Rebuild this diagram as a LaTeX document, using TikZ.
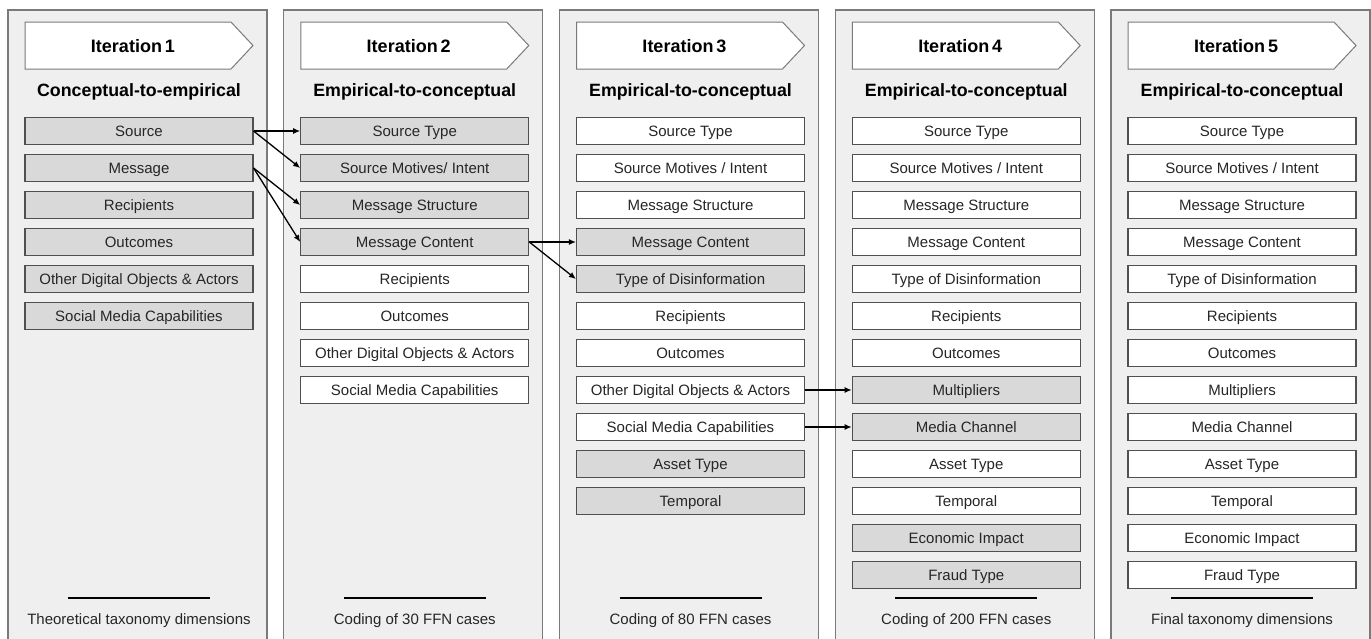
\documentclass[tikz,border=0pt]{standalone}
\usepackage{fontspec}
\setmainfont{Liberation Sans}
\usetikzlibrary{arrows.meta}
\definecolor{panelfill}{HTML}{EFEFEF}
\definecolor{panelline}{HTML}{7A7A7A}
\definecolor{boxline}{HTML}{505050}
\definecolor{grayfill}{HTML}{D9D9D9}
\definecolor{txt}{HTML}{262626}
\tikzset{
 panelfillst/.style={fill=panelfill},
 panelborder/.style={draw=panelline, line width=1.4pt},
 dimbox/.style={draw=boxline, line width=1.1pt, minimum width=228pt, minimum height=27pt, inner sep=0pt, text height=10.7pt, text depth=0pt, font=\fontsize{15}{18}\selectfont, text=txt},
 headshape/.style={draw=panelline, fill=white, line width=1pt},
 headtext/.style={font=\bfseries\fontsize{18}{21}\selectfont, text=black, inner sep=0pt, text height=12.9pt, text depth=0pt},
 subtext/.style={font=\bfseries\fontsize{17.8}{21}\selectfont, text=black, inner sep=0pt, text height=12.8pt, text depth=0pt},
 footline/.style={draw=black, line width=1.8pt},
 foottext/.style={font=\fontsize{15}{18}\selectfont, text=txt, inner sep=0pt, text height=10.7pt, text depth=0pt},
 link/.style={draw=black, line width=1.3pt, -{Latex[length=7pt,width=6pt]}},
}
\begin{document}
\begin{tikzpicture}[x=1pt,y=-1pt]
\useasboundingbox (0,0) rectangle (1371,638);
% panels
\foreach \i in {0,...,4}{
  \pgfmathsetmacro\px{8+275.75*\i}
  \fill[panelfillst] (\px,10) rectangle ({\px+259},660);
  \draw[panelborder] (\px,660) -- (\px,10) -- ({\px+259},10) -- ({\px+259},660);
  \draw[headshape] ({\px+17},22) -- ({\px+223},22) -- ({\px+245},45.5) -- ({\px+223},69) -- ({\px+17},69) -- cycle;
  \pgfmathtruncatemacro\n{\i+1}
  \node[headtext] (h\n) at ({\px+125},46) {Iteration\,\n};
  \draw[footline] ({\px+60},598) -- ({\px+202},598);
}
% subtitles
\node[subtext] (s1) at (139,90) {Conceptual-to-empirical};
\node[subtext] (s2) at (414.75,90) {Empirical-to-conceptual};
\node[subtext] (s3) at (690.5,90) {Empirical-to-conceptual};
\node[subtext] (s4) at (966.25,90) {Empirical-to-conceptual};
\node[subtext] (s5) at (1242,90) {Empirical-to-conceptual};
% column 1
\foreach \t/\f [count=\j] in {Source/grayfill, Message/grayfill, Recipients/grayfill, Outcomes/grayfill, {Other Digital Objects \& Actors}/grayfill, {Social Media Capabilities}/grayfill}
  \node[dimbox, fill=\f] (a\j) at (139,{131+37*(\j-1)}) {\t};
% column 2
\foreach \t/\f [count=\j] in {{Source Type}/grayfill, {Source Motives/ Intent}/grayfill, {Message Structure}/grayfill, {Message Content}/grayfill, Recipients/white, Outcomes/white, {Other Digital Objects \& Actors}/white, {Social Media Capabilities}/white}
  \node[dimbox, fill=\f] (b\j) at (414.75,{131+37*(\j-1)}) {\t};
% column 3
\foreach \t/\f [count=\j] in {{Source Type}/white, {Source Motives / Intent}/white, {Message Structure}/white, {Message Content}/grayfill, {Type of Disinformation}/grayfill, Recipients/white, Outcomes/white, {Other Digital Objects \& Actors}/white, {Social Media Capabilities}/white, {Asset Type}/grayfill, Temporal/grayfill}
  \node[dimbox, fill=\f] (c\j) at (690.5,{131+37*(\j-1)}) {\t};
% column 4
\foreach \t/\f [count=\j] in {{Source Type}/white, {Source Motives / Intent}/white, {Message Structure}/white, {Message Content}/white, {Type of Disinformation}/white, Recipients/white, Outcomes/white, Multipliers/grayfill, {Media Channel}/grayfill, {Asset Type}/white, Temporal/white, {Economic Impact}/grayfill, {Fraud Type}/grayfill}
  \node[dimbox, fill=\f] (d\j) at (966.25,{131+37*(\j-1)}) {\t};
% column 5
\foreach \t/\f [count=\j] in {{Source Type}/white, {Source Motives / Intent}/white, {Message Structure}/white, {Message Content}/white, {Type of Disinformation}/white, Recipients/white, Outcomes/white, Multipliers/white, {Media Channel}/white, {Asset Type}/white, Temporal/white, {Economic Impact}/white, {Fraud Type}/white}
  \node[dimbox, fill=\f] (e\j) at (1242,{131+37*(\j-1)}) {\t};
% footers
\node[foottext] (f1) at (139,619) {Theoretical taxonomy dimensions};
\node[foottext] (f2) at (414.75,619) {Coding of 30 FFN cases};
\node[foottext] (f3) at (690.5,619) {Coding of 80 FFN cases};
\node[foottext] (f4) at (966.25,619) {Coding of 200 FFN cases};
\node[foottext] (f5) at (1242,619) {Final taxonomy dimensions};
% connectors
\draw[link] (a1.east) -- (b1.west);
\draw[link] (a1.east) -- (b2.west);
\draw[link] (a2.east) -- (b3.west);
\draw[link] (a2.east) -- (b4.west);
\draw[link] (b4.east) -- (c4.west);
\draw[link] (b4.east) -- (c5.west);
\draw[link] (c8.east) -- (d8.west);
\draw[link] (c9.east) -- (d9.west);
\end{tikzpicture}
\end{document}
